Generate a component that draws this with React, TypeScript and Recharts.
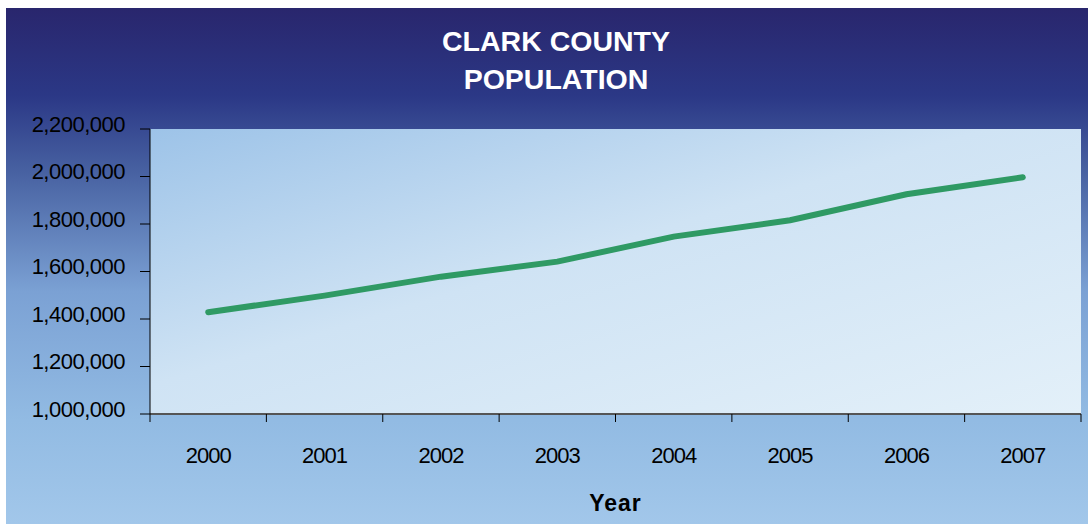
import React from 'react'
import { LineChart, Line, XAxis, YAxis, CartesianGrid, Label } from 'recharts'

const years = ['2000', '2001', '2002', '2003', '2004', '2005', '2006', '2007']
const population = [1428700, 1498300, 1578300, 1641500, 1747000, 1815700, 1925000, 1996500]
const yTicks = [1000000, 1200000, 1400000, 1600000, 1800000, 2000000, 2200000]

const data = years.map((year, i) => ({ year, population: population[i] }))

const W = 1082
const H = 516
const margin = { top: 121, right: 7, left: 0, bottom: 10 }
const yAxisWidth = 144
const band = (W - yAxisWidth - margin.right) / years.length
const font = '"Liberation Sans", Arial, sans-serif'

const YearTick = (props: any) => {
  const { x, y, payload, index } = props
  const axisY = y - 33
  return (
    <g>
      <line x1={x - band / 2} x2={x - band / 2} y1={axisY} y2={axisY + 8} stroke="#000" />
      {index === years.length - 1 && (
        <line x1={x + band / 2} x2={x + band / 2} y1={axisY} y2={axisY + 8} stroke="#000" />
      )}
      <text x={x} y={y} dy="0.71em" textAnchor="middle" fill="#000" fontSize={22} letterSpacing={-1} fontFamily={font}>
        {payload.value}
      </text>
    </g>
  )
}

const PopTick = (props: any) => {
  const { x, y, payload } = props
  return (
    <text x={x} y={y - 5} dy="0.36em" textAnchor="end" fill="#000" fontSize={22} letterSpacing={-0.5} fontFamily={font}>
      {Number(payload.value).toLocaleString('en-US')}
    </text>
  )
}

export default function App() {
  return (
    <div style={{ position: 'absolute', left: 6, top: 8, width: W, height: H, background: 'linear-gradient(to bottom, #29266d 0%, #2b3886 17%, #4862a2 32%, #7ba1d4 55%, #92bbe3 80%, #a2c7ea 100%)' }}>
      <div style={{ position: 'absolute', left: 0, top: 14, width: 1100, textAlign: 'center', color: '#fff', fontFamily: font, fontWeight: 'bold', fontSize: 28.5, lineHeight: '38px' }}>
        CLARK COUNTY<br />POPULATION
      </div>
      <LineChart width={W} height={H} data={data} margin={margin} style={{ position: 'absolute', left: 0, top: 0 }}>
        <defs>
          <linearGradient id="plotBg" x1="0" y1="0" x2="1" y2="1">
            <stop offset="0%" stopColor="#9dc3e8" />
            <stop offset="45%" stopColor="#cfe3f4" />
            <stop offset="100%" stopColor="#e3f0f9" />
          </linearGradient>
        </defs>
        <CartesianGrid horizontal={false} vertical={false} fill="url(#plotBg)" />
        <XAxis
          dataKey="year"
          scale="band"
          height={100}
          tickLine={false}
          tickSize={8}
          tickMargin={25}
          interval={0}
          axisLine={{ stroke: '#555', strokeWidth: 2 }}
          tick={<YearTick />}
        >
          <Label value="Year" position="insideBottom" offset={3} fill="#000" fontSize={23} letterSpacing={1} fontWeight="bold" fontFamily={font} />
        </XAxis>
        <YAxis
          width={yAxisWidth}
          domain={[1000000, 2200000]}
          ticks={yTicks}
          interval={0}
          tickSize={10}
          tickMargin={15}
          axisLine={{ stroke: '#000' }}
          tickLine={{ stroke: '#000' }}
          tick={<PopTick />}
        />
        <Line
          type="linear"
          dataKey="population"
          stroke="#2f9a64"
          strokeWidth={6}
          strokeLinecap="round"
          dot={false}
          activeDot={false}
          isAnimationActive={false}
        />
      </LineChart>
    </div>
  )
}
